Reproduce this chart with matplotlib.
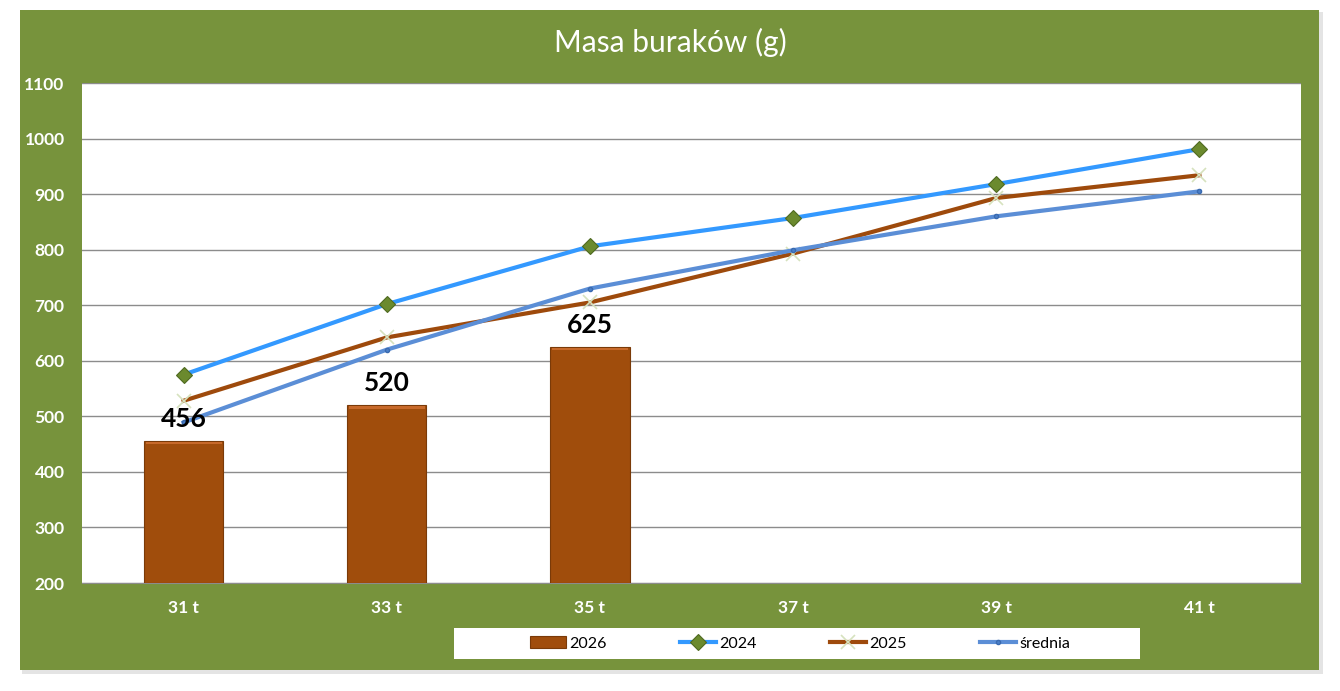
import matplotlib
matplotlib.use("Agg")
import matplotlib.pyplot as plt
from matplotlib.patches import Rectangle
import numpy as np

categories = ["31 t", "33 t", "35 t", "37 t", "39 t", "41 t"]
bars_2026 = [456, 520, 625]
line_2024 = [575, 702, 806, 857, 918, 981]
line_2025 = [528, 642, 705, 793, 893, 934]
line_srednia = [489, 620, 730, 799, 860, 905]
yticks = [200, 300, 400, 500, 600, 700, 800, 900, 1000, 1100]

W, H = 1340, 691
fig = plt.figure(figsize=(W / 100, H / 100), dpi=100)
fig.patch.set_facecolor("white")

GREEN = "#77933C"
# soft shadow + green panel
fig.patches.append(Rectangle((22 / W, 1 - 674 / H), 1301 / W, 662 / H,
                             transform=fig.transFigure, facecolor="#E4E4E4",
                             edgecolor="none", zorder=0))
fig.patches.append(Rectangle((20 / W, 1 - 670 / H), 1299 / W, 660 / H,
                             transform=fig.transFigure, facecolor=GREEN,
                             edgecolor="none", zorder=1))

ax = fig.add_axes([82 / W, 1 - 583 / H, (1301 - 82) / W, (583 - 83) / H])
ax.set_facecolor("white")
ax.set_zorder(2)

x = np.arange(len(categories))
bx = x[:len(bars_2026)]
bars = ax.bar(bx, [v - 200 for v in bars_2026], bottom=200, width=0.39,
              color="#A04D0C", edgecolor="#7A3A08", linewidth=0.8, zorder=3)
# bevel highlight
for r in bars:
    ax.add_patch(Rectangle((r.get_x() + 0.008, r.get_y() + r.get_height() - 6),
                           r.get_width() - 0.016, 4, facecolor="#C7692A",
                           edgecolor="none", zorder=3.5))
for xi, v in zip(bx, bars_2026):
    ax.text(xi, v + 18, str(v), ha="center", va="bottom", fontsize=19,
            fontweight="bold", color="black", family="Lato", zorder=6)

ax.plot(x, line_2024, color="#3399FF", linewidth=3, marker="D", markersize=8,
        markerfacecolor="#6B8A2E", markeredgecolor="#4F6A20", markeredgewidth=0.8,
        zorder=4, label="2024")
ax.plot(x, line_2025, color="#9E4A0C", linewidth=3, marker="x", markersize=10,
        markeredgecolor="#D6E2BE", markeredgewidth=1.2, zorder=4, label="2025")
ax.plot(x, line_srednia, color="#5B8ED6", linewidth=3, marker="o", markersize=3,
        markerfacecolor="#4A7FC8", markeredgecolor="#3A6AB0", zorder=4,
        label="średnia")

ax.set_xlim(-0.5, len(categories) - 0.5)
ax.set_ylim(200, 1100)
ax.set_yticks(yticks)
ax.set_xticks(x)
ax.set_xticklabels(categories)
ax.grid(axis="y", color="#8C8C8C", linewidth=1, zorder=0)
ax.set_axisbelow(True)
for s in ["top", "right", "left"]:
    ax.spines[s].set_visible(False)
ax.spines["bottom"].set_color("#8C8C8C")
ax.tick_params(axis="both", length=0, colors="white", labelsize=12.5)
ax.tick_params(axis="x", pad=12)
ax.tick_params(axis="y", pad=12.5)
for lab in ax.get_xticklabels() + ax.get_yticklabels():
    lab.set_fontweight("bold")
    lab.set_family("Lato")
    lab.set_color("white")

fig.text(670 / W, 1 - 42 / H, "Masa buraków (g)", ha="center", va="center",
         fontsize=21.5, color="white", family="Lato")

# legend
fig.patches.append(Rectangle((454 / W, 1 - 659 / H), 686 / W, 31 / H,
                             transform=fig.transFigure, facecolor="white",
                             edgecolor="none", zorder=1.5))
handles = [bars, ax.lines[0], ax.lines[1], ax.lines[2]]
labels = ["2026", "2024", "2025", "średnia"]
leg = fig.legend(handles, labels, loc="center", bbox_to_anchor=(800 / W, 1 - 643.5 / H),
                 ncol=4, frameon=False, columnspacing=4.6, borderaxespad=0,
                 handlelength=2.25, handletextpad=0.2,
                 prop={"family": "Lato", "size": 11.5})
leg.set_zorder(5)

fig.savefig("out.png", dpi=100, facecolor="white")
